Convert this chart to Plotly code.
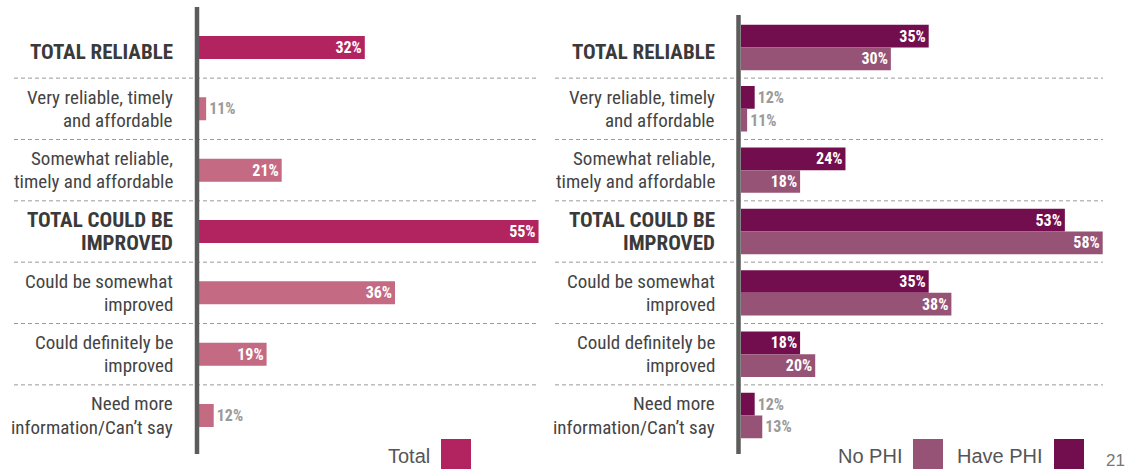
import plotly.graph_objects as go

# ---- data -------------------------------------------------------------
categories = [
    "TOTAL RELIABLE",
    "Very reliable, timely<br>and affordable",
    "Somewhat reliable,<br>timely and affordable",
    "TOTAL COULD BE<br>IMPROVED",
    "Could be somewhat<br>improved",
    "Could definitely be<br>improved",
    "Need more<br>information/Can’t say",
]
is_total = [True, False, False, True, False, False, False]
total = [32, 11, 21, 55, 36, 19, 12]
no_phi = [30, 11, 18, 58, 38, 20, 13]
have_phi = [35, 12, 24, 53, 35, 18, 12]

# ---- styling ----------------------------------------------------------
W, H = 1139, 469
C_TOTAL = "#B2245F"
C_SUB = "#C46A82"
C_NOPHI = "#965375"
C_HAVEPHI = "#730E4E"
AXIS_GREY = "#5C5C5C"
LABEL_GREY = "#444444"
DASH_GREY = "#9A9A9A"
NARROW = "Roboto Condensed, DejaVu Sans Condensed, Roboto, sans-serif"
WIDE = "Liberation Sans, Arial, sans-serif"


def px(x):
    return x / W


def py(y):
    return 1 - y / H


def text_pos(vals, cut=15):
    return ["inside" if v >= cut else "outside" for v in vals]


def pct(vals):
    return [f"{v}%" for v in vals]


fig = go.Figure()

value_font = dict(family=NARROW, size=16, color="white", weight="bold")
out_font = dict(family=NARROW, size=16, color="#9A9A9A", weight="bold")

# left panel: overall results
fig.add_trace(go.Bar(
    y=categories, x=total, orientation="h", name="Total",
    marker=dict(color=[C_TOTAL if t else C_SUB for t in is_total], line_width=0),
    width=0.375,
    text=pct(total), textposition=text_pos(total), insidetextanchor="end",
    insidetextfont=value_font, outsidetextfont=out_font,
    constraintext="none", cliponaxis=False,
    xaxis="x", yaxis="y", showlegend=False,
))

# right panel: by private health insurance status
fig.add_trace(go.Bar(
    y=categories, x=have_phi, orientation="h", name="Have PHI",
    marker=dict(color=C_HAVEPHI, line_width=0),
    text=pct(have_phi), textposition=text_pos(have_phi), insidetextanchor="end",
    insidetextfont=value_font, outsidetextfont=out_font,
    constraintext="none", cliponaxis=False,
    xaxis="x2", yaxis="y2", showlegend=False,
))
fig.add_trace(go.Bar(
    y=categories, x=no_phi, orientation="h", name="No PHI",
    marker=dict(color=C_NOPHI, line_width=0),
    text=pct(no_phi), textposition=text_pos(no_phi), insidetextanchor="end",
    insidetextfont=value_font, outsidetextfont=out_font,
    constraintext="none", cliponaxis=False,
    xaxis="x2", yaxis="y2", showlegend=False,
))

y_dom = [py(446.2), py(16.8)]
hidden = dict(showgrid=False, zeroline=False, showticklabels=False,
              ticks="", showline=False, fixedrange=True)

fig.update_layout(
    width=W, height=H,
    margin=dict(l=0, r=0, t=0, b=0),
    paper_bgcolor="white", plot_bgcolor="white",
    barmode="group", bargap=0.26, bargroupgap=0,
    xaxis=dict(domain=[px(198.6), px(539)], range=[10.0, 55.06], **hidden),
    xaxis2=dict(domain=[px(741), px(1103)], range=[10.19, 58.04], **hidden),
    yaxis=dict(domain=y_dom, anchor="x", categoryorder="array",
               categoryarray=categories, autorange="reversed", **hidden),
    yaxis2=dict(domain=y_dom, anchor="x2", categoryorder="array",
                categoryarray=categories, autorange="reversed", **hidden),
)

shapes = []
annotations = []

# dashed separators between rows
for k in range(len(categories) - 1):
    for (xa, xb, yref) in ((14, 539, "y"), (555, 1103, "y2")):
        shapes.append(dict(
            type="line", xref="paper", yref=yref,
            x0=px(xa), x1=px(xb), y0=k + 0.5, y1=k + 0.5,
            line=dict(color=DASH_GREY, width=1, dash="4px,3px"),
        ))

# vertical axis rules
shapes.append(dict(type="line", xref="paper", yref="paper",
                   x0=px(197), x1=px(197), y0=py(454), y1=py(7),
                   line=dict(color=AXIS_GREY, width=4.5)))
shapes.append(dict(type="line", xref="paper", yref="paper",
                   x0=px(738.5), x1=px(738.5), y0=py(454), y1=py(15),
                   line=dict(color=AXIS_GREY, width=4.5)))

# category labels, one annotation per text line
LINE_STEP = 23.3
for cat, bold in zip(categories, is_total):
    lines = cat.split("<br>")
    n = len(lines)
    for i, line in enumerate(lines):
        shift = -(i - (n - 1) / 2) * LINE_STEP
        if n == 1:
            shift -= 5
        for (xr, yref) in ((175, "y"), (717, "y2")):
            annotations.append(dict(
                text=line, xref="paper", yref=yref, x=px(xr), y=cat,
                xanchor="right", yanchor="middle", yshift=shift,
                showarrow=False,
                font=dict(family=NARROW, size=21 if bold else 19,
                          color="#3A3A3A" if bold else LABEL_GREY,
                          weight="bold" if bold else "normal"),
            ))

# legend
legend_items = [("Total", C_TOTAL, 432, 441), ("No PHI", C_NOPHI, 904, 913),
                ("Have PHI", C_HAVEPHI, 1045, 1054)]
for name, col, tx, sx in legend_items:
    annotations.append(dict(
        text=name, xref="paper", yref="paper", x=px(tx), y=py(456),
        xanchor="right", yanchor="middle", showarrow=False,
        font=dict(family=WIDE, size=20, color="#555555"),
    ))
    shapes.append(dict(type="rect", xref="paper", yref="paper",
                       x0=px(sx), x1=px(sx + 30), y0=py(469), y1=py(439),
                       fillcolor=col, line_width=0))

# page number
annotations.append(dict(
    text="21", xref="paper", yref="paper", x=px(1127), y=py(460),
    xanchor="right", yanchor="middle", showarrow=False,
    font=dict(family=WIDE, size=17, color="#777777"),
))

fig.update_layout(shapes=shapes, annotations=annotations)
fig.write_html("out.html")
